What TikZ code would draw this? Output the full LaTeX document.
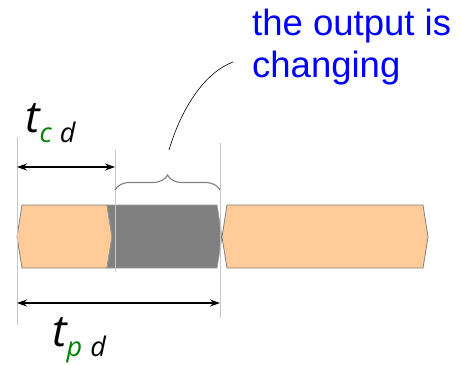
\documentclass[tikz,border=0pt]{standalone}
\usepackage{fontspec}
\setmainfont{Liberation Sans}
\newfontfamily\labelfont{Open Sans}
\usetikzlibrary{arrows.meta,decorations.pathreplacing}
\definecolor{slotorange}{RGB}{255,204,153}
\definecolor{labelgreen}{RGB}{0,128,0}
\tikzset{
  slot/.style={fill=slotorange, draw=gray, line width=0.8pt},
  busy/.style={fill=gray, draw=gray!80, line width=0.8pt},
  guide/.style={draw=black!22, line width=0.9pt},
  span/.style={{Stealth[length=10pt,width=7pt]}-{Stealth[length=10pt,width=7pt]}, line width=1.6pt},
  delaylabel/.style={inner sep=0pt, font=\labelfont\itshape},
}
\newcommand{\delayname}[1]{{\fontsize{44}{44}\selectfont t}\kern0pt\raisebox{-10pt}{\fontsize{27}{27}\selectfont\textcolor{labelgreen}{#1}\kern8pt d}}
\begin{document}
\begin{tikzpicture}[x=1pt, y=-1pt]
	\useasboundingbox (0,0) rectangle (462,364);
	% 1. 数据槽 (最底层)
	\draw[slot] (17,237) -- (22,205) -- (107,205) -- (112,237) -- (107,268) -- (22,268) -- cycle;
	\draw[busy] (107,205) -- (217,205) -- (222,237) -- (217,268) -- (107,268) -- (112,237) -- cycle;
	\draw[slot] (222,237) -- (227,205) -- (423,205) -- (428,237) -- (423,268) -- (227,268) -- cycle;
	
	% 2. 辅助竖线
	\coordinate (start) at (17,167);
	\coordinate (valid) at (115,167);
	\coordinate (settle) at (220,303);
	\draw[guide] (17,137) -- (17,325);
	\draw[guide] (115,150) -- (115,272);
	\draw[guide] (220,143) -- (220,318);
	
	% 3. 时间间隔
	\draw[span] (start) -- (valid);
	\draw[span] (17,303) -- (settle);
	\node[delaylabel, anchor=base west] (tcd) at (25,132) {\delayname{c}};
	\node[delaylabel, anchor=base west] (tpd) at (52,346) {\delayname{p}};
	
	% 4. 输出变化区间与注释
	\draw[gray, line width=1.1pt, decorate, decoration={brace, amplitude=15pt, aspect=0.5}]
		(115,190) -- (220,190) coordinate[midway] (bracemid);
	\node[text=blue, align=left, anchor=base west, inner sep=0pt,
		font=\fontsize{36.5}{42}\selectfont] (note) at (252,77) {the output is\\changing};
	\coordinate (tip) at (169,150);
	\draw[line width=0.6pt] (tip) .. controls (182,106) and (206,72) .. (233,62);
\end{tikzpicture}
\end{document}
